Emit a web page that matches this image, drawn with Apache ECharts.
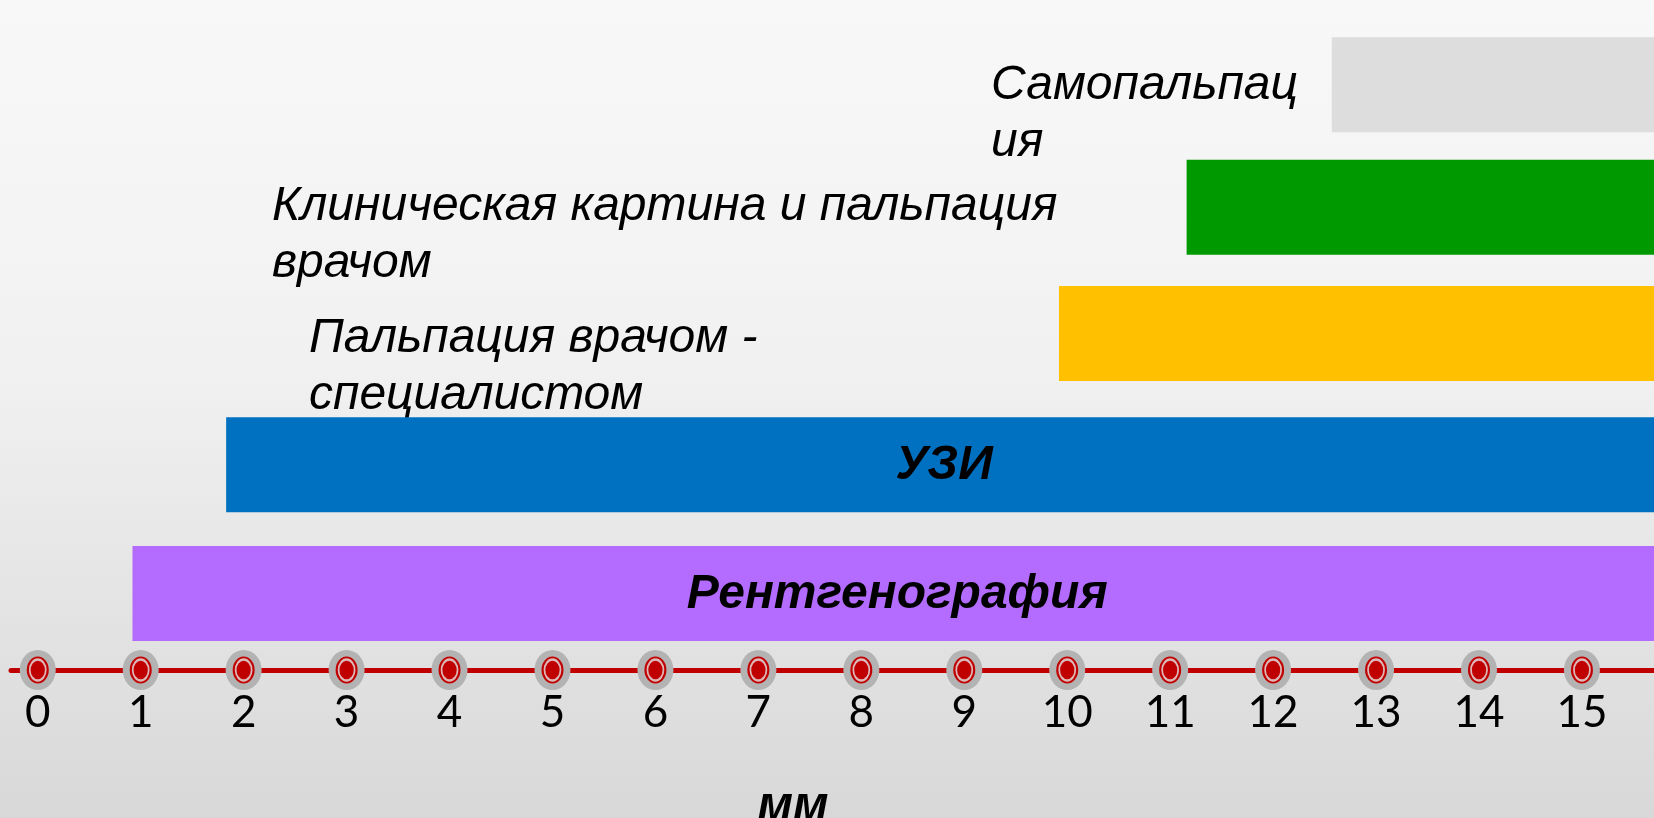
<!DOCTYPE html>
<html>
<head>
<meta charset="utf-8">
<script src="https://cdn.jsdelivr.net/npm/echarts@6/dist/echarts.min.js"></script>
<style>
html,body{margin:0;padding:0;}
#chart{width:1654px;height:818px;}
</style>
</head>
<body>
<div id="chart"></div>
<script>
// ---- data ----
const categories = ['Самопальпация', 'Клиническая картина и пальпация врачом', 'Пальпация врачом - специалистом', 'УЗИ', 'Рентгенография'];
const labelTexts = ['Самопальпац\nия', 'Клиническая картина и пальпация\nврачом', 'Пальпация врачом -\nспециалистом', 'УЗИ', 'Рентгенография'];
const startMm = [12.57, 11.16, 9.92, 1.83, 0.92];
const endMm = [15.7, 15.7, 15.7, 15.7, 15.7];
const tickValues = [0, 1, 2, 3, 4, 5, 6, 7, 8, 9, 10, 11, 12, 13, 14, 15];
const tickLabels = ['0', '1', '2', '3', '4', '5', '6', '7', '8', '9', '10', '11', '12', '13', '14', '15'];
const axisName = 'мм';

// ---- styles / layout ----
const rowLayout = [4.99, 4.03, 3.04, 2.01, 1.0];
const barColors = ['#DDDDDD', '#009900', '#FFC000', '#0070C0', '#B46BFF'];
const labelInside = [false, false, false, true, true];
const outsideLabelPos = [[991, 57], [272, 178], [309, 310]];
const lineY = 0.4;

const chart = echarts.init(document.getElementById('chart'));
const barData = categories.map((c, i) => [startMm[i], endMm[i], rowLayout[i]]);
const tickData = tickValues.map(v => [v, lineY]);

chart.setOption({
  animation: false,
  backgroundColor: {
    type: 'linear', x: 0, y: 0, x2: 0, y2: 1,
    colorStops: [
      { offset: 0, color: '#F8F8F8' },
      { offset: 0.45, color: '#F1F1F1' },
      { offset: 1, color: '#D8D8D8' }
    ]
  },
  grid: { left: 11, right: 0, top: 0, bottom: 148, containLabel: false, outerBoundsMode: 'none' },
  xAxis: {
    type: 'value',
    min: -0.26,
    max: 15.7,
    splitLine: { show: false },
    axisLine: { show: true, lineStyle: { color: '#C00000', width: 5 } },
    axisTick: { show: false },
    axisLabel: {
      customValues: tickValues,
      formatter: (v) => tickLabels[tickValues.indexOf(v)],
      color: '#000',
      fontFamily: 'Lato',
      fontSize: 44,
      margin: 21
    },
    name: axisName,
    nameLocation: 'middle',
    nameGap: 113,
    nameTextStyle: {
      color: '#000',
      fontFamily: '"Liberation Sans", Arial, sans-serif',
      fontSize: 48,
      fontWeight: 'bold',
      fontStyle: 'italic',
      padding: [0, 79, 0, 0]
    }
  },
  yAxis: {
    type: 'value',
    min: 0.4,
    max: 5.655,
    show: false,
    splitLine: { show: false }
  },
  series: [
    {
      type: 'custom',
      silent: true,
      data: barData,
      renderItem: function (params, api) {
        const i = params.dataIndex;
        const s = api.coord([api.value(0), api.value(2)]);
        const e = api.coord([api.value(1), api.value(2)]);
        const h = api.size([0, 0.745])[1];
        const children = [{
          type: 'rect',
          shape: { x: s[0], y: s[1] - h / 2, width: e[0] - s[0], height: h },
          style: { fill: barColors[i] }
        }];
        if (labelInside[i]) {
          children.push({
            type: 'text',
            x: (s[0] + e[0]) / 2 + 4,
            y: s[1] + 1,
            style: {
              text: labelTexts[i],
              fill: '#000',
              font: 'italic bold 48px "Liberation Sans", Arial, sans-serif',
              align: 'center',
              verticalAlign: 'middle'
            }
          });
        } else {
          const p = outsideLabelPos[i];
          children.push({
            type: 'text',
            x: p[0],
            y: p[1],
            style: {
              text: labelTexts[i],
              fill: '#000',
              font: 'italic 48px "Liberation Sans", Arial, sans-serif',
              lineHeight: 57,
              align: 'left',
              verticalAlign: 'top'
            }
          });
        }
        return { type: 'group', children: children };
      }
    },
    {
      type: 'scatter', silent: true, clip: false, data: tickData,
      symbol: 'circle', symbolSize: [36, 40],
      itemStyle: { color: '#B3B3B3', opacity: 1 }, z: 3
    },
    {
      type: 'scatter', silent: true, clip: false, data: tickData,
      symbol: 'circle', symbolSize: [22, 27],
      itemStyle: { color: '#C00000', opacity: 1 }, z: 4
    },
    {
      type: 'scatter', silent: true, clip: false, data: tickData,
      symbol: 'circle', symbolSize: [16, 21],
      itemStyle: { color: '#C00000', borderColor: '#DDB8B8', borderWidth: 2, opacity: 1 }, z: 5
    }
  ]
});
</script>
</body>
</html>
